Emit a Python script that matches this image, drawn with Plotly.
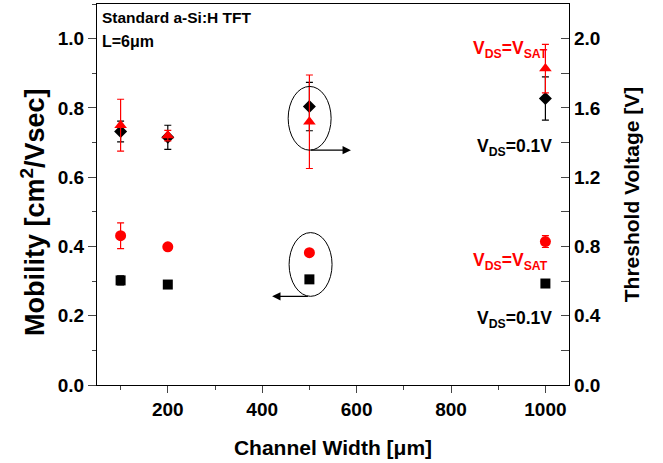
import plotly.graph_objects as go

# Data
channel_width = [100, 200, 500, 1000]
mobility_lin = [0.302, 0.290, 0.305, 0.293]
mobility_lin_err = [0.013, 0.010, 0.008, 0.008]
mobility_sat = [0.431, 0.399, 0.382, 0.414]
mobility_sat_err = [0.037, 0.008, 0.008, 0.017]
vth_lin = [1.464, 1.430, 1.608, 1.654]
vth_lin_err = [0.060, 0.070, 0.140, 0.125]
vth_sat = [1.500, 1.440, 1.520, 1.827]
vth_sat_err = [0.150, 0.030, 0.270, 0.140]

RED = "#FF0000"
BLACK = "#000000"
FONT = "Liberation Sans"

fig = go.Figure()

fig.add_trace(go.Scatter(
    x=channel_width, y=mobility_lin, mode="markers",
    marker=dict(symbol="square", size=10, color=BLACK),
    error_y=dict(type="data", array=mobility_lin_err, color=BLACK, thickness=1.2, width=3.5),
    yaxis="y", showlegend=False))
fig.add_trace(go.Scatter(
    x=channel_width, y=mobility_sat, mode="markers",
    marker=dict(symbol="circle", size=11, color=RED),
    error_y=dict(type="data", array=mobility_sat_err, color=RED, thickness=1.2, width=3.5),
    yaxis="y", showlegend=False))
fig.add_trace(go.Scatter(
    x=channel_width, y=vth_lin, mode="markers",
    marker=dict(symbol="diamond", size=10, color=BLACK),
    error_y=dict(type="data", array=vth_lin_err, color=BLACK, thickness=1.2, width=3.5),
    yaxis="y2", showlegend=False))
fig.add_trace(go.Scatter(
    x=channel_width, y=vth_sat, mode="markers",
    marker=dict(symbol="triangle-up", size=11, color=RED),
    error_y=dict(type="data", array=vth_sat_err, color=RED, thickness=1.2, width=3.5),
    yaxis="y2", showlegend=False))

# Ellipses around W=500 points
fig.add_shape(type="circle", xref="x", yref="y", x0=455, x1=546, y0=0.678, y1=0.862,
              line=dict(color=BLACK, width=1))
fig.add_shape(type="circle", xref="x", yref="y", x0=457, x1=548, y0=0.256, y1=0.440,
              line=dict(color=BLACK, width=1))

# Arrows
fig.add_annotation(x=588, y=0.678, ax=500, ay=0.678, xref="x", yref="y", axref="x", ayref="y",
                   showarrow=True, arrowhead=2, arrowsize=1.4, arrowwidth=1.2, arrowcolor=BLACK, text="")
fig.add_annotation(x=421, y=0.256, ax=500, ay=0.256, xref="x", yref="y", axref="x", ayref="y",
                   showarrow=True, arrowhead=2, arrowsize=1.4, arrowwidth=1.2, arrowcolor=BLACK, text="")

W, H = 663, 463
L, R, T, B = 97, 94, 4, 78
pw, ph = W - L - R, H - T - B

def to_paper(xpx, ypx):
    return (xpx - L) / pw, (H - B - ypx) / ph

def ann(xpx, ypx, text, color, size=17, xanchor="left", angle=0):
    px, py = to_paper(xpx, ypx)
    fig.add_annotation(x=px, y=py, xref="paper", yref="paper", text=text,
                       showarrow=False, xanchor=xanchor, yanchor="middle", textangle=angle,
                       font=dict(size=size, color=color, family=FONT, weight="bold"))

ann(100, 17, "Standard a-Si:H TFT", BLACK, 15.5)
ann(100, 41, "L=6μm", BLACK, 16)
ann(550, 50, "V<sub>DS</sub>=V<sub>SAT</sub>", RED, 17.5, "right")
ann(554, 147, "V<sub>DS</sub>=0.1V", BLACK, 17.5, "right")
ann(550, 261, "V<sub>DS</sub>=V<sub>SAT</sub>", RED, 17.5, "right")
ann(554, 319, "V<sub>DS</sub>=0.1V", BLACK, 17.5, "right")
# left axis title
ann(33, 212, "Mobility [cm<sup>2</sup>/Vsec]", BLACK, 27, "center", -90)

tickfont = dict(size=19, color=BLACK, family=FONT, weight="bold")
titlefont = dict(size=21, color=BLACK, family=FONT, weight="bold")

fig.update_layout(
    width=W, height=H,
    margin=dict(l=L, r=R, t=T, b=B, autoexpand=False),
    paper_bgcolor="white", plot_bgcolor="white",
    font=dict(family=FONT, color=BLACK),
    xaxis=dict(range=[50, 1050], tick0=0, dtick=200, ticks="outside", ticklen=7, tickwidth=1.2,
               showline=True, linecolor=BLACK, linewidth=1.2, mirror=True, showgrid=False,
               zeroline=False, tickfont=tickfont,
               minor=dict(dtick=100, tick0=0, ticks="outside", ticklen=4, tickwidth=1.2, showgrid=False),
               title=dict(text="Channel Width [μm]", font=titlefont, standoff=21)),
    yaxis=dict(range=[0, 1.1], tick0=0, dtick=0.2, ticks="outside", ticklen=8, tickwidth=1.2,
               showline=True, linecolor=BLACK, linewidth=1.2, showgrid=False, zeroline=False,
               tickformat=".1f", tickfont=tickfont,
               minor=dict(dtick=0.1, tick0=0, ticks="outside", ticklen=4, tickwidth=1.2, showgrid=False)),
    yaxis2=dict(range=[0, 2.2], tick0=0, dtick=0.4, overlaying="y", side="right",
                ticks="inside", ticklen=8, tickwidth=1.2,
                showline=True, linecolor=BLACK, linewidth=1.2, showgrid=False, zeroline=False,
                tickformat=".1f", tickfont=tickfont,
                minor=dict(dtick=0.2, tick0=0, ticks="inside", ticklen=8, tickwidth=1.2, showgrid=False),
                title=dict(text="Threshold Voltage [V]", font=titlefont, standoff=24)),
)

fig.write_html("out.html", config={"displayModeBar": False},
               post_script="document.body.style.margin='0';")
